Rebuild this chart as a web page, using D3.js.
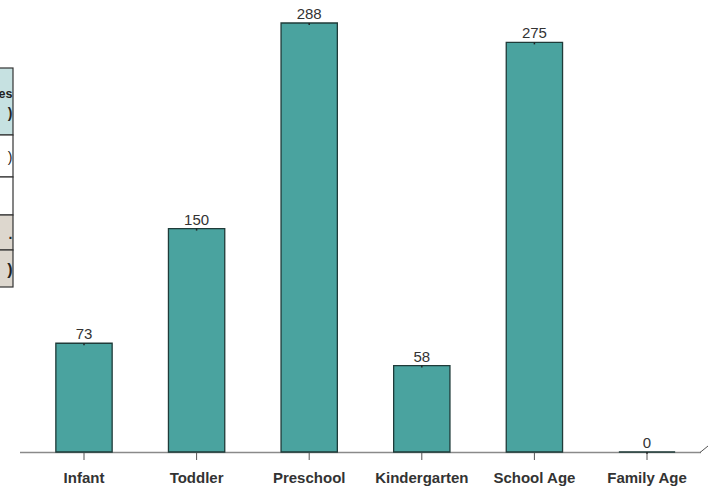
<!DOCTYPE html>
<html><head><meta charset="utf-8">
<script src="https://cdn.jsdelivr.net/npm/d3@7"></script>
<style>body{margin:0;background:#fff;}svg{display:block;font-family:"Liberation Sans",Arial,sans-serif;}</style>
</head><body>
<svg id="c" width="723" height="488"></svg>
<script>
const categories = ["Infant","Toddler","Preschool","Kindergarten","School Age","Family Age"];
const values = [73,150,288,58,275,0];
const tableRows = [
  {lines:["es",")"], fill:"#c6e1e1", bold:true},
  {lines:[")"], fill:"#ffffff", bold:false},
  {lines:[""], fill:"#ffffff", bold:false},
  {lines:["."], fill:"#ddd7ce", bold:true},
  {lines:[")"], fill:"#ddd7ce", bold:true}
];
const rowEdges = [68,135,177,215,250,287];

const svg = d3.select("#c");
const x = d3.scaleBand().domain(categories).range([27.7,703.3]).paddingInner(0.5).paddingOuter(0.25);
const y = d3.scaleLinear().domain([0,288]).range([452,23]);

// partial table on the left
const tbl = svg.append("g");
tableRows.forEach((r,i)=>{
  const y0 = rowEdges[i], y1 = rowEdges[i+1];
  tbl.append("rect").attr("x",-2).attr("y",y0).attr("width",15).attr("height",y1-y0)
    .attr("fill",r.fill).attr("stroke","#333").attr("stroke-width",1.2);
  const n = r.lines.length;
  r.lines.forEach((t,j)=>{
    tbl.append("text").attr("x",12.5).attr("y",(y0+y1)/2 + (j-(n-1)/2)*20 + 6)
      .attr("text-anchor","end").attr("font-size",i===4?16:(t==="es"?12.5:14))
      .attr("font-weight",r.bold?"bold":"normal").attr("fill","#222").text(t);
  });
});

// axis baseline
svg.append("line").attr("x1",20).attr("x2",701).attr("y1",452.5).attr("y2",452.5)
  .attr("stroke","#8a8a8a").attr("stroke-width",1.5);
svg.append("line").attr("x1",700).attr("x2",708).attr("y1",452.5).attr("y2",446)
  .attr("stroke","#555").attr("stroke-width",1);

// bars (drawn as paths so zero-height bars still show their outline)
svg.selectAll("path.bar").data(values).join("path").attr("class","bar")
  .attr("d",(d,i)=>{
    const x0 = x(categories[i]), w = x.bandwidth();
    return `M${x0},${y(0)}V${y(d)}H${x0+w}V${y(0)}Z`;
  })
  .attr("fill","#4aa39f").attr("stroke","#1f3b39").attr("stroke-width",1.3);

// small marks at bar tops
svg.selectAll("line.mk").data(values).join("line").attr("class","mk")
  .attr("x1",(d,i)=>x(categories[i])+x.bandwidth()/2).attr("x2",(d,i)=>x(categories[i])+x.bandwidth()/2)
  .attr("y1",d=>y(d)).attr("y2",d=>y(d)+2).attr("stroke","#222").attr("stroke-width",1.5);

// value labels
svg.selectAll("text.val").data(values).join("text").attr("class","val")
  .attr("x",(d,i)=>x(categories[i])+x.bandwidth()/2).attr("y",d=>y(d)-4)
  .attr("text-anchor","middle").attr("font-size",15).attr("fill","#333").text(d=>d);

// x axis ticks and labels
const ax = svg.append("g").attr("transform","translate(0,453)")
  .call(d3.axisBottom(x).tickSize(7).tickSizeOuter(0).tickPadding(12));
ax.select(".domain").remove();
ax.selectAll(".tick line").attr("stroke","#555");
ax.selectAll(".tick text").attr("font-size",15).attr("font-weight","bold").attr("fill","#333")
  .attr("font-family","'Liberation Sans',Arial,sans-serif");
</script>
</body></html>
